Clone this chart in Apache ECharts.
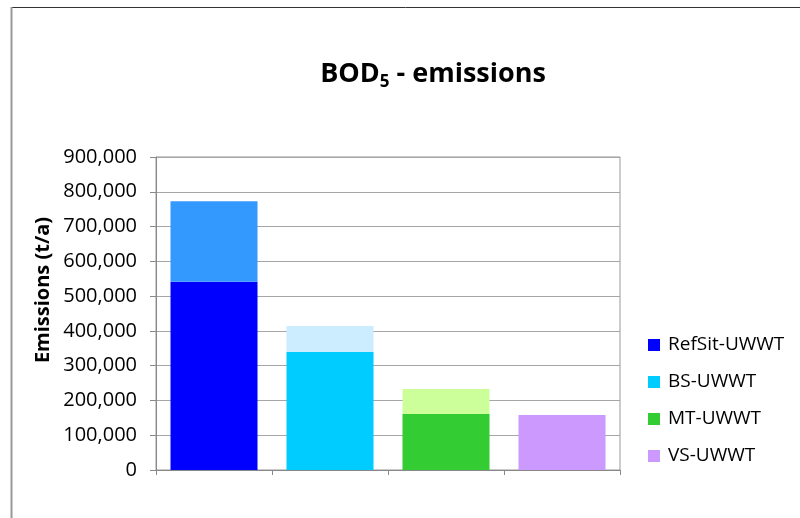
<!DOCTYPE html>
<html>
<head>
<meta charset="utf-8">
<script src="https://cdn.jsdelivr.net/npm/echarts@6/dist/echarts.min.js"></script>
<style>
  html, body { margin: 0; padding: 0; background: #fff; }
  #chart { width: 800px; height: 518px; }
</style>
</head>
<body>
<div id="chart"></div>
<script>
// Scenarios and their BOD5 emissions (t/a)
const categories = ['RefSit-UWWT', 'BS-UWWT', 'MT-UWWT', 'VS-UWWT'];
const baseValues = [541000, 339000, 161000, 158000];
const extraValues = [232000, 75000, 72000, 0];
const yTicks = [0, 100000, 200000, 300000, 400000, 500000, 600000, 700000, 800000, 900000];

const baseColors = ['#0000FF', '#00CCFF', '#33CC33', '#CC99FF'];
const extraColors = ['#3399FF', '#CCECFF', '#CCFF99', '#E6CCFF'];

const FONT = '"Open Sans", "Liberation Sans", sans-serif';

// one series per scenario so each gets its own legend entry; all share one stack
const series = categories.map((name, i) => ({
  name: name,
  type: 'bar',
  stack: 'total',
  barCategoryGap: '25%',
  itemStyle: { color: baseColors[i] },
  data: categories.map((_, j) => (j === i ? baseValues[j] : '-'))
}));

series.push({
  name: 'extra',
  type: 'bar',
  stack: 'total',
  barCategoryGap: '25%',
  data: extraValues.map((v, i) => ({ value: v, itemStyle: { color: extraColors[i] } }))
});

const chart = echarts.init(document.getElementById('chart'), null, { renderer: 'canvas' });

chart.setOption({
  animation: false,
  backgroundColor: '#fff',
  textStyle: { fontFamily: FONT },
  title: {
    text: '{t|BOD}{s|5}{t| - emissions}',
    left: 428,
    top: 52,
    textAlign: 'center',
    textStyle: {
      rich: {
        t: { fontFamily: FONT, fontSize: 27, fontWeight: 'bold', color: '#000', lineHeight: 34 },
        s: { fontFamily: FONT, fontSize: 17, fontWeight: 'bold', color: '#000', padding: [16, 0, 0, 0], lineHeight: 34 }
      }
    }
  },
  legend: {
    data: categories,
    orient: 'vertical',
    left: 643,
    top: 330,
    icon: 'rect',
    itemWidth: 12,
    itemHeight: 12,
    itemGap: 17,
    textStyle: { fontFamily: FONT, fontSize: 19, lineHeight: 20, color: '#000', padding: [0, 0, 0, 3] }
  },
  grid: {
    left: 156,
    right: 180,
    top: 157,
    bottom: 48,
    show: true,
    borderColor: '#999',
    borderWidth: 1
  },
  xAxis: {
    type: 'category',
    data: categories,
    axisLine: { lineStyle: { color: '#888', width: 1 } },
    axisTick: { show: true, length: 5, lineStyle: { color: '#888' } },
    axisLabel: { show: false }
  },
  yAxis: {
    type: 'value',
    min: yTicks[0],
    max: yTicks[yTicks.length - 1],
    interval: yTicks[1] - yTicks[0],
    axisLine: { show: true, lineStyle: { color: '#888', width: 1 } },
    axisTick: { show: true, length: 6, lineStyle: { color: '#888' } },
    splitLine: { lineStyle: { color: '#A6A6A6', width: 1 } },
    axisLabel: {
      fontFamily: FONT,
      fontSize: 20,
      color: '#000',
      margin: 19,
      formatter: v => v.toLocaleString('en-US')
    }
  },
  graphic: [
    {
      type: 'text',
      x: 43,
      y: 290,
      rotation: Math.PI / 2,
      style: {
        text: 'Emissions (t/a)',
        fontFamily: FONT,
        fontSize: 20,
        fontWeight: 'bold',
        fill: '#000',
        textAlign: 'center',
        textVerticalAlign: 'middle'
      }
    },
    // outer chart frame
    { type: 'line', shape: { x1: 11, y1: 7.5, x2: 800, y2: 7.5 }, style: { stroke: '#333', lineWidth: 1 } },
    { type: 'line', shape: { x1: 11.5, y1: 7, x2: 11.5, y2: 518 }, style: { stroke: '#999', lineWidth: 2 } }
  ],
  series: series
});
</script>
</body>
</html>
